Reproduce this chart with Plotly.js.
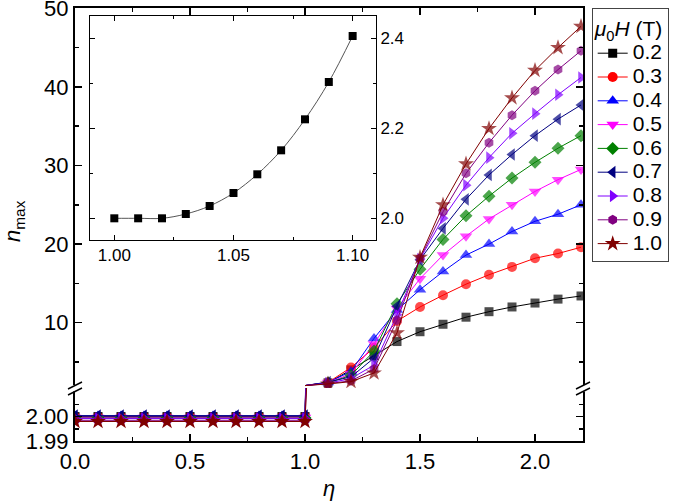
<!DOCTYPE html>
<html><head><meta charset="utf-8">
<script src="https://cdn.plot.ly/plotly-3.0.1.min.js"></script>
<style>html,body{margin:0;padding:0;background:#fff}#chart{width:685px;height:501px}</style>
</head><body><div id="chart"></div>
<script>
// ---- data ----
const eta = [0.0,0.1,0.2,0.3,0.4,0.5,0.6,0.7,0.8,0.9,1.0,1.1,1.2,1.3,1.4,1.5,1.6,1.7,1.8,1.9,2.0,2.1,2.2];
const fields = ['0.2','0.3','0.4','0.5','0.6','0.7','0.8','0.9','1.0'];
const n02 = [2.0000,2.0000,2.0000,2.0000,2.0000,2.0000,2.0000,2.0000,2.0000,2.0000,2.0000, 2.35,4.0,5.8,7.6,8.85,9.8,10.7,11.4,12.0,12.5,13.0,13.4];
const n03 = [1.9998,1.9998,1.9998,1.9998,1.9998,1.9998,1.9998,1.9998,1.9998,1.9998,1.9998, 2.4,4.3,6.8,10.2,12.0,13.5,14.9,16.1,17.1,18.2,18.8,19.6];
const n04 = [2.0003,2.0003,2.0003,2.0003,2.0003,2.0003,2.0003,2.0003,2.0003,2.0003,2.0003, 2.4,3.8,8.0,11.6,14.2,16.5,18.6,20.0,21.6,22.9,23.8,25.0];
const n05 = [1.9996,1.9996,1.9996,1.9996,1.9996,1.9996,1.9996,1.9996,1.9996,1.9996,1.9996, 2.38,3.5,7.3,11.8,15.6,18.6,21.0,23.2,25.0,26.7,28.2,29.5];
const n06 = [1.9994,1.9994,1.9994,1.9994,1.9994,1.9994,1.9994,1.9994,1.9994,1.9994,1.9994, 2.35,3.3,6.4,12.4,16.8,20.6,23.6,26.1,28.4,30.4,32.2,33.8];
const n07 = [2.0004,2.0004,2.0004,2.0004,2.0004,2.0004,2.0004,2.0004,2.0004,2.0004,2.0004, 2.45,3.1,5.5,12.1,18.0,22.0,25.7,28.8,31.4,33.8,35.9,37.7];
const n08 = [1.9992,1.9992,1.9992,1.9992,1.9992,1.9992,1.9992,1.9992,1.9992,1.9992,1.9992, 2.3,2.9,4.6,11.0,18.1,23.3,27.5,31.0,34.1,36.6,39.0,41.2];
const n09 = [1.9985,1.9985,1.9985,1.9985,1.9985,1.9985,1.9985,1.9985,1.9985,1.9985,1.9985, 2.25,2.6,4.1,10.3,18.2,24.1,29.0,32.9,36.4,39.5,42.2,44.6];
const n10 = [1.9980,1.9980,1.9980,1.9980,1.9980,1.9980,1.9980,1.9980,1.9980,1.9980,1.9980, 2.2,2.5,3.6,8.7,18.3,25.0,30.2,34.7,38.6,42.1,45.0,47.7];
const etaInset = [1.00,1.01,1.02,1.03,1.04,1.05,1.06,1.07,1.08,1.09,1.10];
const nInset = [2.000,2.000,2.000,2.0096,2.0274,2.0563,2.0978,2.1511,2.2200,2.3030,2.4052];

// ---- styles ----
const series = [n02,n03,n04,n05,n06,n07,n08,n09,n10];
const colors = ['#000000','#ff0000','#0000ff','#ff00ff','#008000','#000080','#8000ff','#800080','#800000'];
const symbols = ['square','circle','triangle-up','triangle-down','diamond','triangle-left','triangle-right','hexagon','star'];
const msize = [9,10,11,11,10,11,11,10,12];
const splitIdx = eta.indexOf(1.0);
const FONT = 'Liberation Sans, Arial, Helvetica, sans-serif';

const traces = [];
series.forEach((ys,i)=>{
  traces.push({x:eta, y:ys, xaxis:'x', yaxis:'y', type:'scatter', mode:'lines+markers',
    name:'<span style="font-size:21px">'+fields[i]+'</span>', legendgroup:fields[i],
    line:{color:colors[i], width:1}, marker:{symbol:symbols[i], size:msize[i], color:colors[i], line:{width:0}}});
  traces.push({x:eta, y:ys.map((v,k)=> k<splitIdx ? null : v), xaxis:'x2', yaxis:'y2', type:'scatter', mode:'lines+markers',
    showlegend:false, legendgroup:fields[i], name:fields[i],
    line:{color:colors[i], width:1}, marker:{symbol:symbols[i], size:eta.map((e,k)=> k<=splitIdx ? 0 : msize[i]), color:colors[i], line:{width:0}}});
});
traces.push({x:etaInset, y:nInset, xaxis:'x3', yaxis:'y3', type:'scatter', mode:'lines+markers', showlegend:false,
  line:{color:'#555', width:1, shape:'spline'}, marker:{symbol:'square', size:8, color:'#000', line:{width:0}}});

// geometry helpers (paper coords of decorations)
const L=75, R=583, T=8, B=441, W=R-L, H=B-T;
const px = v => (v-L)/W, py = v => (B-v)/H;
const breakY = 388;
const dSplit = py(breakY);

const axCommon = {showline:true, linecolor:'#000', linewidth:2, ticks:'inside', tickcolor:'#000', tickwidth:1.5, ticklen:7,
  zeroline:false, showgrid:false, ticklabeloverflow:'allow', tickfont:{size:22, family:FONT, color:'#000'}};

const shapes = [];
[L,R].forEach(cx=>{
  shapes.push({type:'rect', xref:'paper', yref:'paper', x0:px(cx-2), x1:px(cx+2), y0:py(breakY+3.5), y1:py(breakY-3), fillcolor:'#fff', line:{width:0}, layer:'above'});
  shapes.push({type:'line', xref:'paper', yref:'paper', x0:px(cx-7), y0:py(breakY+1), x1:px(cx+7), y1:py(breakY-6), line:{color:'#000', width:1.5}, layer:'above'});
  shapes.push({type:'line', xref:'paper', yref:'paper', x0:px(cx-7), y0:py(breakY+7), x1:px(cx+7), y1:py(breakY), line:{color:'#000', width:1.5}, layer:'above'});
});

const layout = {
  width:685, height:501, margin:{l:L, r:685-R, t:T, b:501-B, pad:0},
  paper_bgcolor:'#fff', plot_bgcolor:'rgba(0,0,0,0)',
  font:{family:FONT, size:21, color:'#000'},
  showlegend:true,
  xaxis:Object.assign({}, axCommon, {domain:[0,1], anchor:'y', range:[0,2.2087], tick0:0, dtick:0.5, tickformat:'.1f',
    minor:{dtick:0.25, ticks:'inside', ticklen:4, tickwidth:1.5, tickcolor:'#000'},
    title:{text:'<i>η</i>', standoff:8, font:{size:22, family:FONT}}}),
  xaxis2:Object.assign({}, axCommon, {domain:[0,1], anchor:'y2', side:'top', matches:'x', range:[0,2.2087], tick0:0, dtick:0.5,
    showticklabels:false, minor:{dtick:0.25, ticks:'inside', ticklen:4, tickwidth:1.5, tickcolor:'#000'}}),
  yaxis:Object.assign({}, axCommon, {domain:[0,dSplit], anchor:'x', range:[1.99,2.01176], tickmode:'array', tickvals:[1.99,2.00], ticktext:['1.99','2.00'],
    mirror:'ticks', minor:{tickmode:'array', tickvals:[1.995,2.005], ticks:'inside', ticklen:4, tickwidth:1.5, tickcolor:'#000'}}),
  yaxis2:Object.assign({}, axCommon, {domain:[dSplit,1], anchor:'x2', range:[1.69,50.04], tick0:0, dtick:10,
    mirror:'ticks', minor:{dtick:5, ticks:'inside', ticklen:4, tickwidth:1.5, tickcolor:'#000'}}),
  xaxis3:{domain:[px(90),px(376)], anchor:'y3', range:[0.9898,1.1098], tick0:1.0, dtick:0.05, tickformat:'.2f',
    showline:true, linecolor:'#000', linewidth:1, mirror:'ticks', ticks:'inside', ticklen:5, tickwidth:1, tickcolor:'#000',
    minor:{dtick:0.025, ticks:'inside', ticklen:3, tickwidth:1, tickcolor:'#000'}, ticklabeloverflow:'allow',
    zeroline:false, showgrid:false, tickfont:{size:17, family:FONT, color:'#000'}},
  yaxis3:{domain:[py(240),py(16)], anchor:'x3', side:'right', range:[1.9518,2.4496], tick0:2.0, dtick:0.2, tickformat:'.1f',
    showline:true, linecolor:'#000', linewidth:1, mirror:'ticks', ticks:'inside', ticklen:5, tickwidth:1, tickcolor:'#000',
    minor:{dtick:0.1, ticks:'inside', ticklen:3, tickwidth:1, tickcolor:'#000'}, ticklabeloverflow:'allow',
    zeroline:false, showgrid:false, tickfont:{size:17, family:FONT, color:'#000'}},
  legend:{x:px(591.7), y:1, xanchor:'left', yanchor:'top', bgcolor:'#fff', bordercolor:'#444', borderwidth:1,
    font:{size:16, family:FONT, color:'#000'}, tracegroupgap:0,
    title:{text:'<i>μ</i><sub>0</sub><i>H</i> (T)', font:{size:21, family:FONT, color:'#000'}}},
  annotations:[{text:'<i>n</i><sub>max</sub>', xref:'paper', yref:'paper', x:px(14), y:py(221), showarrow:false,
    textangle:-90, font:{size:22, family:FONT, color:'#000'}, xanchor:'center', yanchor:'middle'}],
  shapes:shapes
};
Plotly.newPlot('chart', traces, layout, {staticPlot:true, displayModeBar:false});
</script></body></html>
